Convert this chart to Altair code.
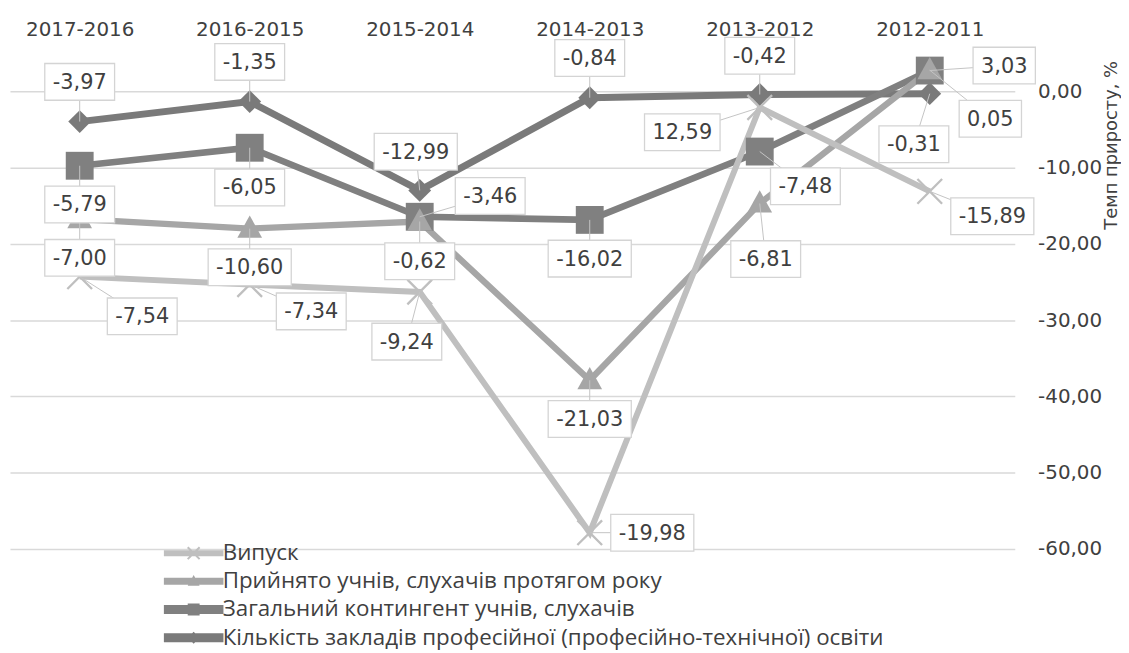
import altair as alt
import pandas as pd

# ---------------- data ----------------
categories = ["2017-2016", "2016-2015", "2015-2014", "2014-2013", "2013-2012", "2012-2011"]
series_names = [
    "Випуск",
    "Прийнято учнів, слухачів протягом  року",
    "Загальний контингент учнів, слухачів",
    "Кількість  закладів професійної (професійно-технічної) освіти",
]
series_codes = ["V", "P", "Z", "K"]
# growth rate, % (values printed in the data labels)
vypusk = [-7.54, -7.34, -9.24, -19.98, 12.59, -15.89]
pryiniato = [-7.00, -10.60, -0.62, -21.03, -6.81, 0.05]
kontynhent = [-5.79, -6.05, -3.46, -16.02, -7.48, 3.03]
kilkist = [-3.97, -1.35, -12.99, -0.84, -0.42, -0.31]
y_ticks = [0, -10, -20, -30, -40, -50, -60]
y_title = "Темп приросту, %"

values_by_series = [vypusk, pryiniato, kontynhent, kilkist]
# Excel "stacked line": Кількість is the base, then Загальний, Прийнято, Випуск
stack_order = [3, 2, 1, 0]

# ---------------- layout / style (not data) ----------------
PLOT_W, PLOT_H = 1012, 507
X_DOM = [-0.41, 5.5]
Y_DOM = [-60, 6]
KX = PLOT_W / (X_DOM[1] - X_DOM[0])
KY = PLOT_H / (Y_DOM[1] - Y_DOM[0])

colors = ["#bfbfbf", "#a6a6a6", "#808080", "#7a7a7a"]
line_widths = [6, 7, 10, 10]
marker_sizes = [1100, 1100, 1400, 940]


def xmark(a, d):
    r1 = f"M{-a-d},{-a+d}L{-a+d},{-a-d}L{a+d},{a-d}L{a-d},{a+d}Z"
    r2 = f"M{-a-d},{a-d}L{a-d},{-a-d}L{a+d},{-a+d}L{-a+d},{a+d}Z"
    return r1 + r2


def rect(x1, y1, x2, y2):
    return f"M{x1},{y1}L{x2},{y1}L{x2},{y2}L{x1},{y2}Z"


marker_shapes = [
    xmark(0.75, 0.05),
    "M0,-0.8L0.75,0.55L-0.75,0.55Z",
    "M-0.75,-0.75L0.75,-0.75L0.75,0.75L-0.75,0.75Z",
    "M0,-0.75L0.75,0L0,0.75L-0.75,0Z",
]
# legend symbol = line segment + marker (unit = 8 px with symbolSize 256)
legend_line_half = [0.375, 0.44, 0.56, 0.56]
legend_paths = [
    rect(-3.75, -h, 3.75, h) + (xmark(0.75, 0.09) if k == 0 else m)
    for k, (h, m) in enumerate(zip(legend_line_half, marker_shapes))
]

# data label offsets from the point, in pixels (dx right, dy down)
label_offsets = {
    3: [(0, -40), (0, -40), (-4, -39), (0, -40), (0, -39), (-16, 51)],
    2: [(0, 39), (0, 40), (71, -21), (0, 39), (46, 35), (75, -5)],
    1: [(0, 39), (0, 39), (0, 40), (0, 39), (6, 56), (61, 49)],
    0: [(63, 40), (62, 27), (-13, 50), (63, 0), (-78, 25), (63, 25)],
}
FONT_NUM = "DejaVu Sans"
LBL_FS = 21
CHAR_W = {"-": 0.361, ",": 0.318}
BOX_H = 37
TEXT_COLOR = "#404040"


def fmt(v):
    return f"{v:.2f}".replace(".", ",")


def box_width(s):
    return sum(CHAR_W.get(c, 0.636) for c in s) * LBL_FS + 16


rows = []
lab_rows = []
for i, cat in enumerate(categories):
    cum = 0.0
    for s in stack_order:
        v = values_by_series[s][i]
        cum += v
        rows.append({"series": series_names[s], "code": series_codes[s], "sidx": s,
                     "i": i, "ycum": cum, "ord": stack_order.index(s)})
        dx, dy = label_offsets[s][i]
        lx = i + dx / KX
        ly = cum - dy / KY
        txt = fmt(v)
        bw = box_width(txt)
        lab_rows.append({
            "series": series_names[s], "i": i, "ycum": cum,
            "lx": lx, "ly": ly, "txt": txt,
            "bx1": lx - bw / 2 / KX, "bx2": lx + bw / 2 / KX,
            "by1": ly - BOX_H / 2 / KY, "by2": ly + BOX_H / 2 / KY,
        })

df = pd.DataFrame(rows).sort_values(["ord", "i"])
ldf = pd.DataFrame(lab_rows)

xscale = alt.Scale(domain=X_DOM, nice=False, zero=False)
yscale = alt.Scale(domain=Y_DOM, nice=False, zero=False)

cat_expr = "[" + ",".join(f"'{c}'" for c in categories) + "][datum.value]"

x_axis = alt.Axis(
    orient="top", values=list(range(len(categories))), labelExpr=cat_expr,
    grid=False, domain=False, ticks=False, labelPadding=6, labelAngle=0,
    labelFont=FONT_NUM, labelFontSize=20, labelColor=TEXT_COLOR, title=None,
)
y_axis = alt.Axis(
    orient="right", values=y_ticks,
    labelExpr="replace(replace(format(datum.value, '.2f'), '.', ','), '\u2212', '-')",
    grid=True, gridColor="#d9d9d9", gridWidth=1.5, domain=False, ticks=False,
    labelPadding=23, labelAlign="left", labelFont=FONT_NUM, labelFontSize=20,
    labelColor=TEXT_COLOR,
    title=y_title, titleAngle=270, titleX=97, titleY=100, titleAlign="center",
    titleBaseline="middle", titleFont=FONT_NUM, titleFontSize=18,
    titleFontWeight="normal", titleColor=TEXT_COLOR,
)

legend = alt.Legend(
    orient="none", legendX=146, legendY=500, title=None, direction="vertical",
    padding=0, symbolSize=256, symbolStrokeWidth=0, symbolStrokeColor="transparent",
    symbolOpacity=1, symbolOffset=27.75, labelOffset=18, rowPadding=5.4,
    labelFont="Open Sans", labelFontSize=22.5, labelColor=TEXT_COLOR, labelLimit=1000,
)

X = alt.X("i:Q", scale=xscale, axis=x_axis)
Y = alt.Y("ycum:Q", scale=yscale, axis=y_axis)

lines = alt.Chart(df).mark_line(strokeJoin="miter").encode(
    x=X, y=Y,
    stroke=alt.Stroke("code:N", scale=alt.Scale(domain=series_codes, range=colors), legend=None),
    strokeWidth=alt.StrokeWidth("sidx:N", scale=alt.Scale(domain=[0, 1, 2, 3], range=line_widths), legend=None),
    order=alt.Order("i:Q"),
    detail="series:N",
)

point_layers = []
for k in stack_order:
    point_layers.append(
        alt.Chart(df).transform_filter(alt.datum.code == series_codes[k]).mark_point(
            filled=True, opacity=1, shape=marker_shapes[k], size=marker_sizes[k], fill=colors[k]
        ).encode(x=X, y=Y)
    )

# invisible layer that only provides the legend
legend_layer = alt.Chart(df).mark_point(filled=True, opacity=0).encode(
    x=X, y=Y,
    shape=alt.Shape("series:N", scale=alt.Scale(domain=series_names, range=legend_paths), legend=legend),
    fill=alt.Fill("series:N", scale=alt.Scale(domain=series_names, range=colors), legend=legend),
)

leaders = alt.Chart(ldf).mark_rule(color="#c4c4c4", strokeWidth=1).encode(
    x=X, y=Y,
    x2="lx:Q",
    y2="ly:Q",
)

boxes = alt.Chart(ldf).mark_rect(fill="white", stroke="#d4d4d4", strokeWidth=1.3).encode(
    x=alt.X("bx1:Q", scale=xscale, axis=x_axis),
    x2="bx2:Q",
    y=alt.Y("by1:Q", scale=yscale, axis=y_axis),
    y2="by2:Q",
)

texts = alt.Chart(ldf).mark_text(
    font=FONT_NUM, fontSize=LBL_FS, color=TEXT_COLOR, align="center", baseline="middle", dy=1
).encode(
    x=alt.X("lx:Q", scale=xscale, axis=x_axis),
    y=alt.Y("ly:Q", scale=yscale, axis=y_axis),
    text="txt:N",
)

chart = alt.layer(lines, *point_layers, legend_layer, leaders, boxes, texts).properties(
    width=PLOT_W, height=PLOT_H,
    autosize=alt.AutoSizeParams(type="none"),
    padding={"left": 2, "top": 35.5, "right": 107, "bottom": 102},
    background="white",
).configure_view(stroke=None)

chart.save("out.html", embed_options={"renderer": "svg", "actions": False})
